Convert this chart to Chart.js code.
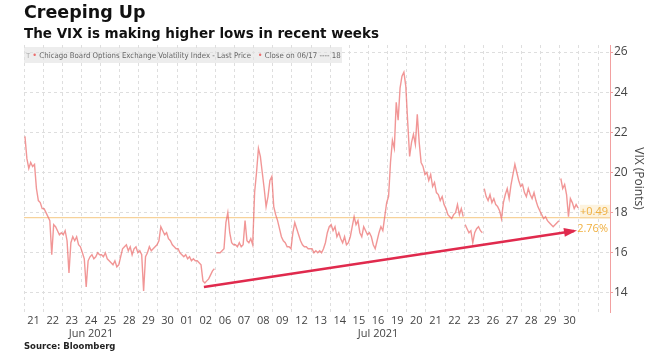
<!DOCTYPE html>
<html lang="en">
<head>
<meta charset="UTF-8">
<title>Creeping Up</title>
<style>
  body{margin:0;background:#fff;}
  #wrap{position:relative;width:654px;height:363px;overflow:hidden;background:#fff}
  #myChart{position:absolute;left:0;top:0}
  .t1{position:absolute;left:24px;top:4px;font:bold 17.5px "DejaVu Sans",sans-serif;color:#111;line-height:1}
  .t2{position:absolute;left:24px;top:27px;font:bold 13.5px "DejaVu Sans",sans-serif;color:#111;line-height:1}
  .leg{position:absolute;left:24px;top:47px;width:318px;height:16px;background:rgba(225,225,225,0.6);
       font:7.8px "DejaVu Sans Condensed","DejaVu Sans",sans-serif;color:#666;line-height:16px;white-space:nowrap;z-index:2}
  .leg .dot{color:#ec6e6e;font-size:9px}
  .leg .pin{color:#aaa;font-size:7px}
  .src{position:absolute;left:24px;top:341px;font:bold 8.5px "DejaVu Sans",sans-serif;color:#222}
</style>
</head>
<body>
<div id="wrap">
  <canvas id="myChart" width="654" height="363"></canvas>
  <div class="t1">Creeping Up</div>
  <div class="t2">The VIX is making higher lows in recent weeks</div>
  <div class="leg">&nbsp;<span class="pin">T</span> <span class="dot">&bull;</span> Chicago Board Options Exchange Volatility Index - Last Price &nbsp; <span class="dot">&bull;</span> Close on 06/17 ---- 18</div>
  <div class="src">Source: Bloomberg</div>
</div>
<script src="https://cdn.jsdelivr.net/npm/chart.js"></script>
<script>

  // trading days shown on the axis
  const dayLabels = ['21','22','23','24','25','28','29','30','01','02','06','07','08','09','12','13','14','15','16','19','20','21','22','23','26','27','28','29','30'];
  const monthAt = [3, 18];
  const monthNames = ['Jun 2021', 'Jul 2021'];

  // intraday VIX readings, 10 per day
  const vix = [
    [21.8, 20.7, 20.2, 20.5, 20.3, 20.4, 19.2, 18.6, 18.5, 18.2],
    [18.2, 18.0, 17.8, 17.6, 15.9, 17.4, 17.3, 17.1, 16.9, 17.0],
    [16.9, 17.1, 16.6, 15.0, 16.5, 16.8, 16.6, 16.8, 16.4, 16.3],
    [16.0, 15.7, 14.3, 15.6, 15.8, 15.9, 15.7, 15.8, 16.0, 15.9],
    [15.9, 15.8, 16.0, 15.7, 15.6, 15.5, 15.4, 15.6, 15.3, 15.4],
    [15.8, 16.2, 16.3, 16.4, 16.1, 16.3, 15.9, 16.2, 16.3, 16.0],
    [16.1, 15.9, 14.1, 15.8, 16.0, 16.3, 16.1, 16.2, 16.3, 16.4],
    [16.6, 17.3, 17.1, 16.9, 17.0, 16.7, 16.6, 16.4, 16.3, 16.2],
    [16.2, 16.0, 15.9, 15.8, 15.9, 15.7, 15.8, 15.6, 15.7, 15.6],
    [15.6, 15.5, 15.4, 14.6, 14.5, 14.6, 14.7, 14.9, 15.1, 15.2],
    [16.0, 16.0, 16.0, 16.1, 16.2, 17.5, 18.0, 17.0, 16.5, 16.4],
    [16.4, 16.3, 16.5, 16.3, 16.4, 17.6, 16.6, 16.5, 16.7, 16.4],
    [19.0, 20.0, 21.2, 20.8, 20.0, 19.2, 18.3, 18.8, 19.6, 19.8],
    [18.3, 17.9, 17.6, 17.2, 16.8, 16.6, 16.5, 16.3, 16.3, 16.2],
    [17.0, 17.5, 17.2, 16.9, 16.6, 16.4, 16.3, 16.3, 16.2, 16.2],
    [16.2, 16.0, 16.1, 16.0, 16.1, 16.0, 16.2, 16.5, 17.0, 17.3],
    [17.4, 17.1, 17.3, 16.8, 17.0, 16.7, 16.5, 16.8, 16.4, 16.5],
    [16.8, 17.3, 17.8, 17.4, 17.6, 17.0, 16.8, 17.3, 17.1, 16.9],
    [17.0, 16.8, 16.4, 16.2, 16.6, 17.0, 17.3, 17.1, 17.8, 18.5],
    [18.8, 20.5, 21.6, 21.2, 23.5, 22.6, 24.2, 24.8, 25.0, 24.3],
    [22.5, 20.8, 21.5, 21.9, 21.4, 22.9, 21.5, 20.5, 20.3, 19.9],
    [20.0, 19.6, 19.9, 19.3, 19.5, 19.0, 18.9, 18.6, 18.8, 18.4],
    [18.2, 17.9, 17.8, 17.7, 17.9, 18.0, 18.4, 17.9, 18.2, 17.8],
    [17.4, 17.2, 17.0, 17.1, 16.5, 17.0, 17.2, 17.3, 17.1, 17.0],
    [19.2, 18.8, 18.6, 18.9, 18.5, 18.7, 18.4, 18.3, 18.1, 17.7],
    [18.5, 18.9, 19.2, 18.7, 19.4, 19.9, 20.4, 20.0, 19.6, 19.3],
    [19.4, 19.0, 18.8, 19.2, 18.9, 18.7, 19.0, 18.6, 18.3, 18.1],
    [17.9, 17.7, 17.8, 17.6, 17.5, 17.4, 17.3, 17.4, 17.5, 17.6],
    [19.7, 19.2, 19.4, 18.9, 17.8, 18.7, 18.5, 18.2, 18.4, 18.24]
  ];
  const gapAfter = [9, 22, 23, 27];

  const yTicks = [14, 16, 18, 20, 22, 24, 26];
  const prevClose = 17.75;
  const lastPrice = 18.24;
  const lastChange = '+0.49';
  const lastPct = '2.76%';

  // the hand drawn trend arrow (day position, VIX level)
  const trendX = [9.4, 28.74];
  const trendY = [14.3, 17.09];

  const xMax = 30.62;

  const points = [];
  vix.forEach((day, d) => {
    day.forEach((v, i) => points.push({x: d + (i + 0.5) / day.length, y: v}));
    if (gapAfter.includes(d)) points.push({x: d + 1, y: null});
  });

  const extras = {
    id: 'extras',
    afterDatasetsDraw(chart) {
      const {ctx, chartArea, scales: {x, y}} = chart;
      // arrow head
      const x0 = x.getPixelForValue(trendX[0]), y0 = y.getPixelForValue(trendY[0]);
      const x1 = x.getPixelForValue(trendX[1]), y1 = y.getPixelForValue(trendY[1]);
      const a = Math.atan2(y1 - y0, x1 - x0);
      const L = 10, W = 4.5;
      ctx.save();
      ctx.fillStyle = '#e02a4d';
      ctx.beginPath();
      ctx.moveTo(x1 + Math.cos(a) * 3, y1 + Math.sin(a) * 3);
      ctx.lineTo(x1 - Math.cos(a) * L - Math.sin(a) * W, y1 - Math.sin(a) * L + Math.cos(a) * W);
      ctx.lineTo(x1 - Math.cos(a) * L + Math.sin(a) * W, y1 - Math.sin(a) * L - Math.cos(a) * W);
      ctx.closePath();
      ctx.fill();

      // change labels
      const yl = y.getPixelForValue(lastPrice);
      ctx.fillStyle = 'rgba(250,220,160,0.35)';
      ctx.fillRect(chartArea.right - 30, yl - 3, 30, 14);
      ctx.fillStyle = '#f0b040';
      ctx.font = '11px "Open Sans"';
      ctx.textAlign = 'right';
      ctx.textBaseline = 'middle';
      ctx.fillText(lastChange, chartArea.right - 2, yl + 4);
      ctx.fillText(lastPct, chartArea.right - 2, yl + 21);
      ctx.restore();
    }
  };

  const ctx = document.getElementById('myChart');
  new Chart(ctx, {
    type: 'line',
    data: {
      datasets: [
        {
          data: points,
          borderColor: 'rgba(236,110,110,0.72)',
          borderWidth: 1.4,
          pointRadius: 0,
          spanGaps: false,
          order: 2
        },
        {
          data: [{x: 0, y: prevClose}, {x: xMax, y: prevClose}],
          borderColor: '#f6d29a',
          borderWidth: 1.3,
          pointRadius: 0,
          order: 3
        },
        {
          data: trendX.map((v, i) => ({x: v, y: trendY[i]})),
          borderColor: '#e02a4d',
          borderWidth: 2.5,
          pointRadius: 0,
          order: 1
        }
      ]
    },
    options: {
      responsive: false,
      animation: false,
      layout: {padding: {left: 24, top: 45, right: 8, bottom: 21}},
      plugins: {legend: {display: false}, tooltip: {enabled: false}},
      scales: {
        x: {
          type: 'linear',
          min: 0,
          max: xMax,
          afterBuildTicks: s => {
            const t = [];
            for (let i = 0; i <= 30; i++) t.push({value: i});
            dayLabels.forEach((d, i) => t.push({value: i + 0.5}));
            t.sort((a, b) => a.value - b.value);
            s.ticks = t;
          },
          ticks: {
            autoSkip: false,
            maxRotation: 0,
            padding: 2,
            color: '#444',
            font: {family: 'Open Sans', size: 11},
            callback: v => {
              if (Number.isInteger(v)) return '';
              const i = v - 0.5;
              const m = monthAt.indexOf(i);
              return m >= 0 ? [dayLabels[i], monthNames[m]] : dayLabels[i];
            }
          },
          grid: {
            color: c => (c.tick && Number.isInteger(c.tick.value)) ? '#dedede' : 'rgba(0,0,0,0)',
            drawTicks: false
          },
          border: {display: false, dash: [3, 3]},
          afterFit: s => { s.height = 30; }
        },
        y: {
          position: 'right',
          min: 13.05,
          max: 26.35,
          afterBuildTicks: s => { s.ticks = yTicks.map(v => ({value: v})); },
          ticks: {color: '#444', font: {family: 'Open Sans', size: 12}, padding: 1},
          grid: {color: '#dedede', tickColor: '#f2a0a0', tickLength: 3},
          border: {color: '#f2a0a0', width: 1, dash: [3, 3]},
          title: {display: true, text: 'VIX (Points)', color: '#444', font: {family: 'Open Sans', size: 12}, padding: 0},
          afterFit: s => { s.width = 36; }
        }
      }
    },
    plugins: [extras]
  });

</script>
</body>
</html>
